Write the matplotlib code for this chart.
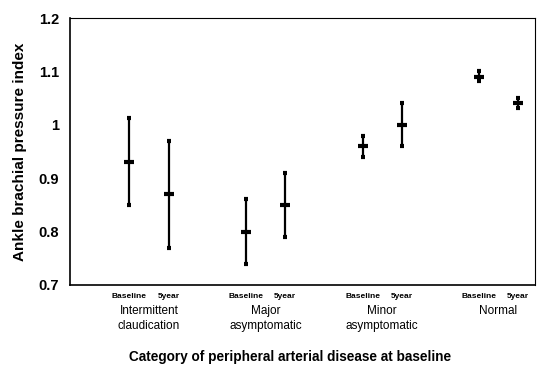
import matplotlib
matplotlib.use("Agg")
import matplotlib.pyplot as plt
import numpy as np
from matplotlib.transforms import blended_transform_factory

plt.rcParams['font.family'] = ['Liberation Sans', 'DejaVu Sans']

# data
groups = ['Intermittent\nclaudication', 'Major\nasymptomatic', 'Minor\nasymptomatic', 'Normal']
timepoints = ['Baseline', '5year']
base_mean = [0.93, 0.80, 0.96, 1.09]
base_low = [0.85, 0.74, 0.94, 1.082]
base_high = [1.013, 0.861, 0.979, 1.101]
year5_mean = [0.87, 0.85, 1.00, 1.041]
year5_low = [0.769, 0.79, 0.96, 1.031]
year5_high = [0.97, 0.91, 1.041, 1.05]

fig = plt.figure(figsize=(5.37, 3.68), dpi=100)
ax = fig.add_axes([70 / 537, 1 - 285 / 368, 465 / 537, 267 / 368])

idx = np.arange(len(groups))
off = 0.1675
for pos, mean, lo, hi in [(idx - off, base_mean, base_low, base_high),
                          (idx + off, year5_mean, year5_low, year5_high)]:
    mean = np.array(mean)
    err = [mean - np.array(lo), np.array(hi) - mean]
    ax.errorbar(pos, mean, yerr=err, fmt='_', color='black', ms=7, mew=3,
                elinewidth=1.6, capsize=1.5, capthick=0.8)

ax.set_xlim(-0.678, 3.313)
ax.set_ylim(0.7, 1.2)
ax.set_yticks([0.7, 0.8, 0.9, 1.0, 1.1, 1.2])
ax.set_yticklabels(['0.7', '0.8', '0.9', '1', '1.1', '1.2'], fontsize=10.5, fontweight='bold')
ax.tick_params(axis='y', length=0, pad=8)
ax.tick_params(axis='x', length=0, pad=6)

xt = np.concatenate([idx - off, idx + off])
xl = [timepoints[0]] * len(groups) + [timepoints[1]] * len(groups)
ax.set_xticks(xt)
ax.set_xticklabels(xl, fontsize=6, fontweight='bold')

trans = blended_transform_factory(ax.transData, fig.transFigure)
for i, g in enumerate(groups):
    ax.text(i, 1 - 305 / 368, g, transform=trans, ha='center', va='top',
            fontsize=8.5, linespacing=1.3)

for s in ax.spines.values():
    s.set_linewidth(0.8)
ax.spines['left'].set_linewidth(1.2)
ax.spines['bottom'].set_linewidth(1.2)

ax.set_ylabel('Ankle brachial pressure index', fontsize=11, fontweight='bold', labelpad=8)
fig.text(290 / 537, 1 - 357 / 368, 'Category of peripheral arterial disease at baseline',
         ha='center', va='center', fontsize=9.8, fontweight='bold')

fig.savefig('out.png', dpi=100)
